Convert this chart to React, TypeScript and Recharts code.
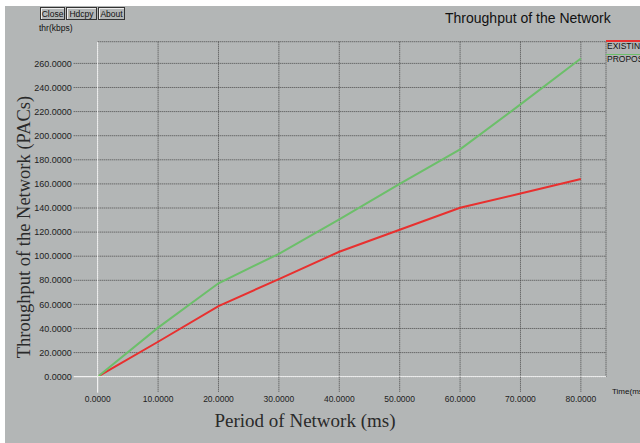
import { CartesianGrid, Line, LineChart, XAxis, YAxis } from "recharts";

const periods = [0, 10, 20, 30, 40, 50, 60, 70, 80];
const existing = [0, 29, 58.6, 81, 103.7, 122, 140.2, 152, 164];
const proposed = [0, 40.7, 77.5, 102, 130.6, 160, 188.7, 226, 264];
const yTicks = [0, 20, 40, 60, 80, 100, 120, 140, 160, 180, 200, 220, 240, 260];
const xTicks = [0, 10, 20, 30, 40, 50, 60, 70, 80];

const data = periods.map((p, i) => ({ period: p, existing: existing[i], proposed: proposed[i] }));

const BG = "#b3b6b6";
const GRID = "#4a4a4a";
const sans = "'Liberation Sans', Arial, sans-serif";
const serif = "'Liberation Serif', 'Times New Roman', serif";

function YTick(props: any) {
  const { x, y, payload } = props;
  const zero = payload.value === 0;
  return (
    <g>
      <line
        x1={x + 2}
        x2={x + 26}
        y1={y}
        y2={y}
        stroke={zero ? "#ffffff" : GRID}
        strokeDasharray={zero ? undefined : "1 1"}
      />
      <text x={x} y={y} dy="0.35em" textAnchor="end" fontSize={9} fill="#222" fontFamily={sans}>
        {Number(payload.value).toFixed(4)}
      </text>
    </g>
  );
}

function XTick(props: any) {
  const { x, y, payload } = props;
  const zero = payload.value === 0;
  return (
    <g>
      <line
        x1={x}
        x2={x}
        y1={y - 18}
        y2={y - 2}
        stroke={zero ? "#ffffff" : GRID}
        strokeDasharray={zero ? undefined : "1 1"}
      />
      <text x={x} y={y} dy="0.85em" textAnchor="middle" fontSize={8.5} fill="#222" fontFamily={sans}>
        {Number(payload.value).toFixed(4)}
      </text>
    </g>
  );
}

const btn: React.CSSProperties = {
  position: "absolute",
  top: 7,
  height: 13,
  border: "1px solid #333",
  boxShadow: "inset 1px 1px 0 #eee",
  fontSize: 8.5,
  lineHeight: "13px",
  textAlign: "center",
  fontFamily: sans,
  color: "#111",
  boxSizing: "border-box",
};

export default function App() {
  return (
    <div style={{ position: "absolute", left: 0, top: 0, width: 640, height: 443, background: "#fff", overflow: "hidden" }}>
      <div style={{ position: "absolute", left: 5, top: 6, width: 635, height: 437, background: BG }} />
      <div style={{ ...btn, left: 40, width: 25 }}>Close</div>
      <div style={{ ...btn, left: 66, width: 31 }}>Hdcpy</div>
      <div style={{ ...btn, left: 98, width: 27 }}>About</div>
      <div style={{ position: "absolute", left: 39, top: 23, fontSize: 8.5, fontFamily: sans, color: "#111" }}>thr(kbps)</div>
      <div style={{ position: "absolute", left: 445, top: 10, fontSize: 14, fontFamily: sans, color: "#111", whiteSpace: "nowrap" }}>
        Throughput of the Network
      </div>
      <div style={{ position: "absolute", left: 0, top: 0 }}>
        <LineChart
          width={640}
          height={443}
          data={data}
          margin={{ top: 41.7, right: 34, left: 27.7, bottom: 36.3 }}
        >
          <CartesianGrid stroke={GRID} strokeDasharray="1 1" fill="none" />
          <XAxis
            dataKey="period"
            type="number"
            domain={[0, 84.16]}
            ticks={xTicks}
            height={30}
            tickSize={16}
            tickLine={false}
            tick={<XTick />}
            axisLine={{ stroke: "#ffffff" }}
            allowDataOverflow
          />
          <YAxis
            type="number"
            domain={[0, 278]}
            ticks={yTicks}
            width={70}
            tickSize={24}
            tickLine={false}
            tick={<YTick />}
            axisLine={{ stroke: "#ffffff" }}
            allowDataOverflow
          />
          <Line dataKey="existing" stroke="#e8302f" strokeWidth={2} dot={false} isAnimationActive={false} />
          <Line dataKey="proposed" stroke="#6cbf6a" strokeWidth={2} dot={false} isAnimationActive={false} />
        </LineChart>
      </div>
      <div style={{ position: "absolute", left: 606, top: 40, width: 40, height: 1.5, background: "#e8302f" }} />
      <div style={{ position: "absolute", left: 607, top: 41, fontSize: 8.5, fontFamily: sans, color: "#111", whiteSpace: "nowrap" }}>EXISTING</div>
      <div style={{ position: "absolute", left: 606, top: 53.5, width: 40, height: 1.5, background: "#6cbf6a" }} />
      <div style={{ position: "absolute", left: 607, top: 54, fontSize: 8.5, fontFamily: sans, color: "#111", whiteSpace: "nowrap" }}>PROPOSED</div>
      <div style={{ position: "absolute", left: 612, top: 387, fontSize: 8, fontFamily: sans, color: "#111", whiteSpace: "nowrap" }}>Time(ms)</div>
      <div
        style={{
          position: "absolute",
          left: 24,
          top: 227,
          transform: "translate(-50%, -50%) rotate(-90deg)",
          fontSize: 18.5,
          fontFamily: serif,
          color: "#2a2a2a",
          whiteSpace: "nowrap",
        }}
      >
        Throughput of the Network (PACs)
      </div>
      <div
        style={{
          position: "absolute",
          left: 305,
          top: 421,
          transform: "translate(-50%, -50%)",
          fontSize: 19,
          fontFamily: serif,
          color: "#2a2a2a",
          whiteSpace: "nowrap",
        }}
      >
        Period of Network (ms)
      </div>
    </div>
  );
}
